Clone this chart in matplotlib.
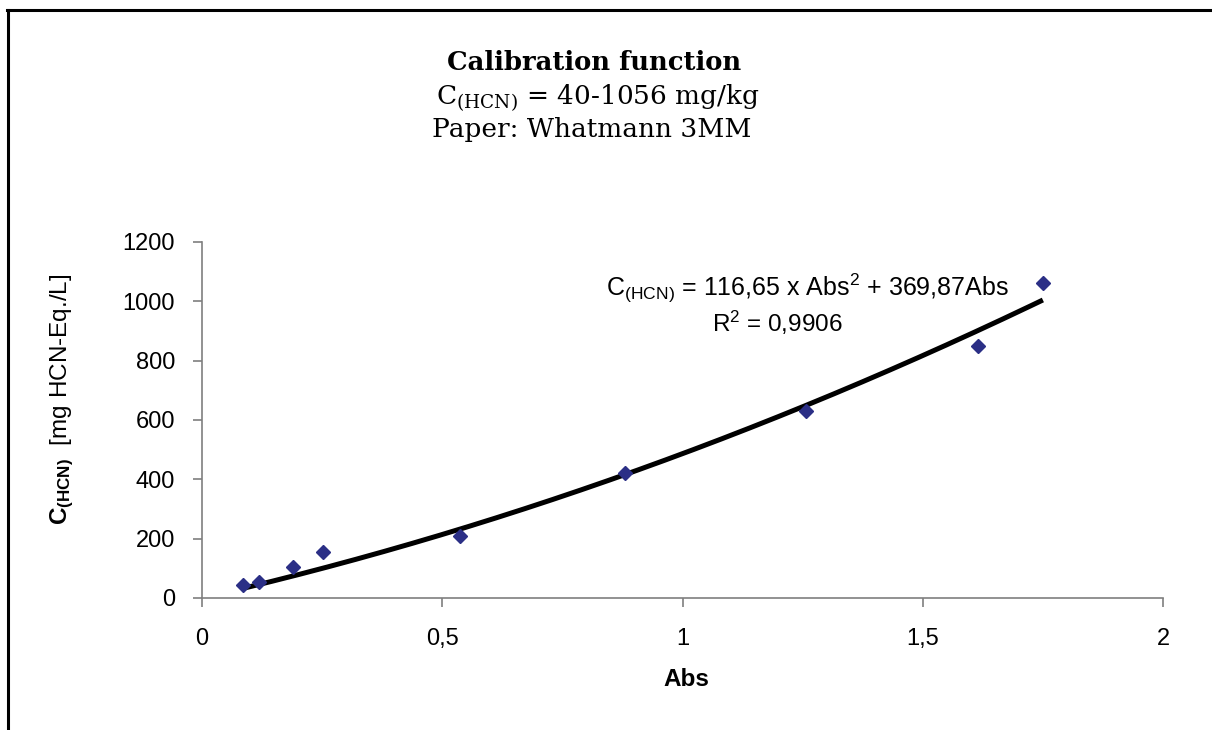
import numpy as np
import matplotlib.pyplot as plt
from matplotlib.lines import Line2D

# Messwerte (Absorption vs. HCN-Konzentration)
abs_values = [0.086, 0.119, 0.19, 0.252, 0.537, 0.881, 1.256, 1.615, 1.75]
c_hcn = [44, 54, 105, 155, 210, 423, 632, 848, 1061]

# Trendlinie (Polynom 2. Grades, durch Null) laut Diagramm
fit_coeffs = [116.65, 369.87, 0.0]

x_ticks = [0, 0.5, 1, 1.5, 2]
x_ticklabels = ['0', '0,5', '1', '1,5', '2']
y_ticks = [0, 200, 400, 600, 800, 1000, 1200]

plt.rcParams['mathtext.fontset'] = 'custom'
plt.rcParams['mathtext.rm'] = 'Liberation Sans'
plt.rcParams['mathtext.bf'] = 'Liberation Sans:bold'
plt.rcParams['mathtext.it'] = 'Liberation Sans:italic'

W, H = 1212, 730
fig = plt.figure(figsize=(W / 100, H / 100), dpi=100)
ax = fig.add_axes([202 / W, (H - 598) / H, (1163 - 202) / W, (598 - 242) / H])

# Trendlinie
x_fit = np.linspace(min(abs_values), max(abs_values), 200)
ax.plot(x_fit, np.polyval(fit_coeffs, x_fit), color='black', lw=3.6, zorder=2,
        solid_capstyle='butt')
ax.plot(abs_values, c_hcn, linestyle='none', marker='D', ms=7.4,
        color='#2b2f86', zorder=3)

ax.set_xlim(0, 2)
ax.set_ylim(0, 1200)
ax.set_xticks(x_ticks)
ax.set_xticklabels(x_ticklabels)
ax.set_yticks(y_ticks)
for s in ['top', 'right']:
    ax.spines[s].set_visible(False)
for s in ['left', 'bottom']:
    ax.spines[s].set_color('#7f7f7f')
    ax.spines[s].set_linewidth(1.2)
ax.tick_params(axis='both', direction='out', length=6.5, width=1.2, color='#7f7f7f',
               labelsize=17, labelcolor='black')
ax.tick_params(axis='y', pad=13)
ax.tick_params(axis='x', pad=15)
for lab in ax.get_xticklabels() + ax.get_yticklabels():
    lab.set_fontfamily('Liberation Sans')

# Achsenbeschriftungen
fig.text(686 / W, 1 - 679 / H, 'Abs', ha='center', va='center',
         fontsize=17.5, fontweight='bold', family='Liberation Sans')
fig.text(62 / W, 1 - 399 / H, r'$\mathbf{C_{(HCN)}}$  [mg HCN-Eq./L]', rotation=90,
         ha='center', va='center', fontsize=17.5, family='Liberation Sans')

# Gleichung der Trendlinie
fig.text(807 / W, 1 - 288 / H,
         r'C$_{(\mathrm{HCN})}$ = 116,65 x Abs$^{2}$ + 369,87Abs',
         ha='center', va='center', fontsize=18, family='Liberation Sans')
fig.text(777 / W, 1 - 323 / H, r'R$^{2}$ = 0,9906',
         ha='center', va='center', fontsize=17.5, family='Liberation Sans')

# Titel
fig.text(594 / W, 1 - 62 / H, 'Calibration function', ha='center', va='center',
         fontsize=18.6, fontweight='bold', family='DejaVu Serif')
fig.text(598 / W, 1 - 98 / H, r'C$_{(\mathrm{HCN})}$ = 40-1056 mg/kg', ha='center',
         va='center', fontsize=19, family='DejaVu Serif', math_fontfamily='dejavuserif')
fig.text(592 / W, 1 - 130 / H, 'Paper: Whatmann 3MM', ha='center', va='center',
         fontsize=19, family='DejaVu Serif')

# Rahmen (oben und links)
fig.add_artist(Line2D([7 / W, 1], [1 - 9.5 / H, 1 - 9.5 / H], transform=fig.transFigure,
                      color='black', lw=2.2))
fig.add_artist(Line2D([8 / W, 8 / W], [0, 1 - 9.5 / H], transform=fig.transFigure,
                      color='black', lw=2.2))

fig.savefig('out.png', dpi=100)
